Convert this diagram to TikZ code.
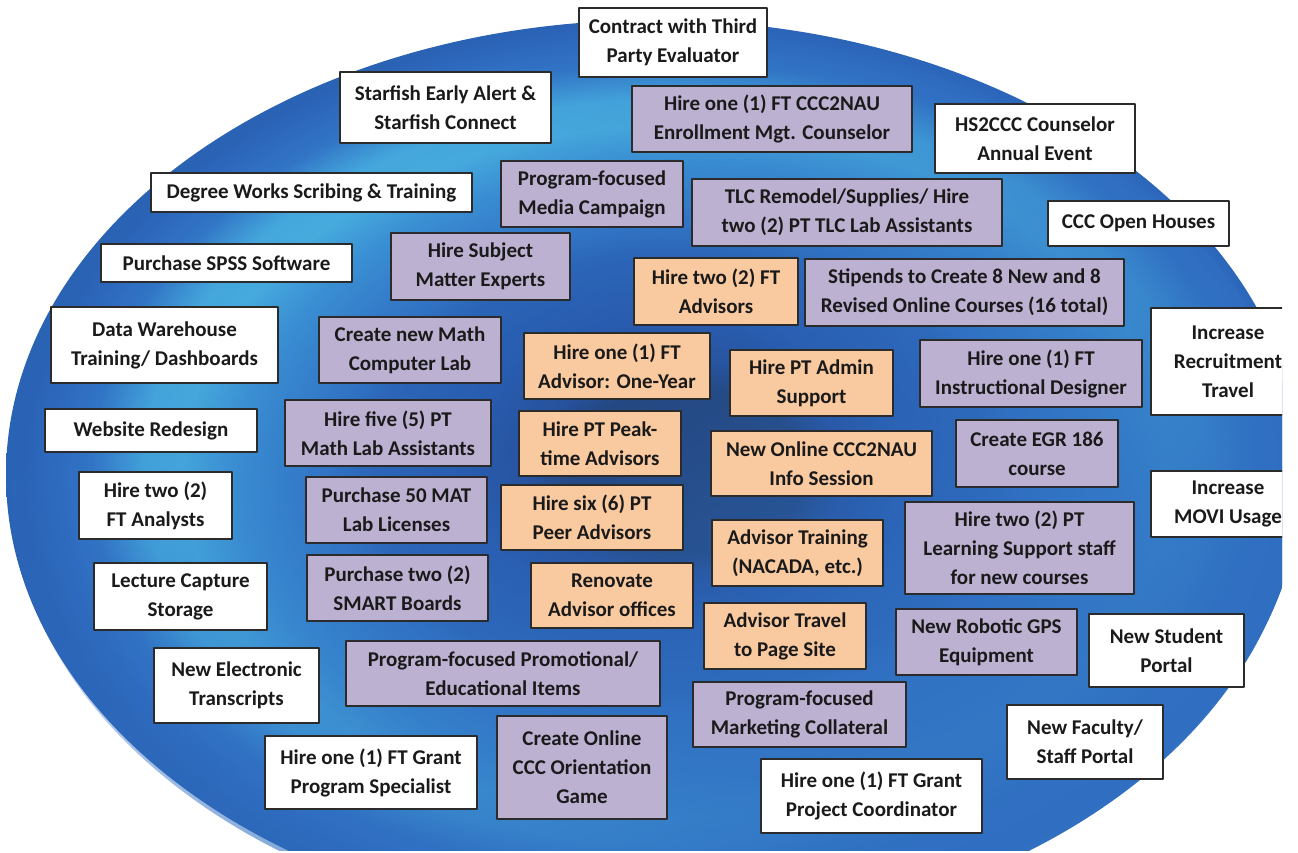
\documentclass[tikz,border=0pt]{standalone}
\usepackage{fontspec}
\usetikzlibrary{fadings}
\setmainfont{Carlito}
\definecolor{lilac}{HTML}{BDB1D2}
\definecolor{peach}{HTML}{F9C9A0}
\definecolor{boxline}{HTML}{2B2B2B}
\definecolor{textdark}{HTML}{1A1A1A}
\definecolor{navy}{HTML}{1C2B52}
\definecolor{deepblue}{HTML}{213F86}
\definecolor{darkblue}{HTML}{2552A6}
\definecolor{midblue}{HTML}{2A62B4}
\definecolor{softblue}{HTML}{3275C6}
\definecolor{lightblue}{HTML}{3D97D8}
\definecolor{cyanband}{HTML}{4AB4E2}
\definecolor{rimblue}{HTML}{2D68BD}
\pgfdeclareradialshading{disc}{\pgfpoint{1.4bp}{0.3bp}}{%
  color(0bp)=(navy); color(4.5bp)=(navy); color(6bp)=(deepblue);
  color(8.5bp)=(darkblue); color(12bp)=(midblue); color(13.5bp)=(softblue);
  color(17bp)=(lightblue); color(19bp)=(cyanband); color(20.5bp)=(cyanband!80!lightblue);
  color(22.5bp)=(softblue); color(24bp)=(rimblue); color(25bp)=(midblue); color(50bp)=(midblue)}
\tikzfading[name=lowright,top color=transparent!100,middle color=transparent!85,bottom color=transparent!0]
\newcommand{\boxfont}{\fontsize{21bp}{29bp}\selectfont\bfseries}
\begin{document}
\begin{tikzpicture}[line join=bevel,
  plainbox/.style={draw=boxline,line width=1.2bp,inner sep=0pt,align=center,text=textdark,font=\boxfont},
  whitebox/.style={plainbox,fill=white},
  purplebox/.style={plainbox,fill=lilac},
  orangebox/.style={plainbox,fill=peach}]
\useasboundingbox (0bp,0bp) rectangle (1298bp,853bp);
\begin{scope}
\clip (0bp,2bp) rectangle (1282bp,853bp);
%% background disc
\shade[shading=disc] (654bp,378bp) ellipse (648bp and 455bp);
\fill[softblue!70!midblue,path fading=lowright,fading angle=45] (654bp,378bp) ellipse (648bp and 455bp);
%% white items
\node (node_0) at (673bp,810.5bp) [whitebox,minimum width=188bp,minimum height=69bp] {Contract with Third\\Party Evaluator};
  \node (node_1) at (445.5bp,745.5bp) [whitebox,minimum width=211bp,minimum height=71bp] {Starfish Early Alert \&\\Starfish Connect};
  \node (node_2) at (311.5bp,660.5bp) [whitebox,minimum width=321bp,minimum height=39bp] {Degree Works Scribing \& Training};
  \node (node_3) at (226.5bp,590bp) [whitebox,minimum width=251bp,minimum height=38bp] {Purchase SPSS Software};
  \node (node_4) at (164.5bp,508bp) [whitebox,minimum width=227bp,minimum height=76bp] {Data Warehouse\\Training/ Dashboards};
  \node (node_5) at (151bp,422.5bp) [whitebox,minimum width=212bp,minimum height=43bp] {Website Redesign};
  \node (node_6) at (155.5bp,347.5bp) [whitebox,minimum width=153bp,minimum height=67bp] {Hire two (2)\\FT Analysts};
  \node (node_7) at (180.5bp,256.5bp) [whitebox,minimum width=173bp,minimum height=67bp] {Lecture Capture\\Storage};
  \node (node_8) at (236.5bp,167.5bp) [whitebox,minimum width=165bp,minimum height=75bp] {New Electronic\\Transcripts};
  \node (node_9) at (371bp,80.5bp) [whitebox,minimum width=212bp,minimum height=73bp] {Hire one (1) FT Grant\\Program Specialist};
  \node (node_10) at (871.5bp,57bp) [whitebox,minimum width=221bp,minimum height=74bp] {Hire one (1) FT Grant\\Project Coordinator};
  \node (node_11) at (1085bp,111bp) [whitebox,minimum width=156bp,minimum height=74bp] {New Faculty/\\Staff Portal};
  \node (node_12) at (1166.5bp,202.5bp) [whitebox,minimum width=155bp,minimum height=73bp] {New Student\\Portal};
  \node (node_13) at (1228bp,349bp) [whitebox,minimum width=154bp,minimum height=66bp] {Increase\\MOVI Usage};
  \node (node_14) at (1228bp,491.5bp) [whitebox,minimum width=154bp,minimum height=107bp] {Increase\\Recruitment\\Travel};
  \node (node_15) at (1138.5bp,629.5bp) [whitebox,minimum width=181bp,minimum height=45bp] {CCC Open Houses};
  \node (node_16) at (1035bp,714.5bp) [whitebox,minimum width=200bp,minimum height=69bp] {HS2CCC Counselor\\Annual Event};
%% purple items
  \node (node_17) at (772bp,734bp) [purplebox,minimum width=280bp,minimum height=66bp] {Hire one (1) FT CCC2NAU\\Enrollment Mgt. Counselor};
  \node (node_18) at (592bp,659bp) [purplebox,minimum width=182bp,minimum height=66bp] {Program-focused\\Media Campaign};
  \node (node_19) at (847bp,640.5bp) [purplebox,minimum width=310bp,minimum height=67bp] {TLC Remodel/Supplies/ Hire\\two (2) PT TLC Lab Assistants};
  \node (node_20) at (480.5bp,586.5bp) [purplebox,minimum width=179bp,minimum height=67bp] {Hire Subject\\Matter Experts};
  \node (node_21) at (964.5bp,560.5bp) [purplebox,minimum width=319bp,minimum height=67bp] {Stipends to Create 8 New and 8\\Revised Online Courses (16 total)};
  \node (node_22) at (410bp,503bp) [purplebox,minimum width=182bp,minimum height=66bp] {Create new Math\\Computer Lab};
  \node (node_23) at (1031bp,479.5bp) [purplebox,minimum width=222bp,minimum height=67bp] {Hire one (1) FT\\Instructional Designer};
  \node (node_24) at (388bp,420bp) [purplebox,minimum width=206bp,minimum height=66bp] {Hire five (5) PT\\Math Lab Assistants};
  \node (node_25) at (396.5bp,343bp) [purplebox,minimum width=181bp,minimum height=66bp] {Purchase 50 MAT\\Lab Licenses};
  \node (node_26) at (397.5bp,265bp) [purplebox,minimum width=181bp,minimum height=66bp] {Purchase two (2)\\SMART Boards};
  \node (node_27) at (503bp,179.5bp) [purplebox,minimum width=314bp,minimum height=65bp] {Program-focused Promotional/\\Educational Items};
  \node (node_28) at (582bp,85.5bp) [purplebox,minimum width=170bp,minimum height=103bp] {Create Online\\CCC Orientation\\Game};
  \node (node_29) at (1037bp,399.5bp) [purplebox,minimum width=162bp,minimum height=67bp] {Create EGR 186\\course};
  \node (node_30) at (1019.5bp,305bp) [purplebox,minimum width=229bp,minimum height=92bp] {Hire two (2) PT\\Learning Support staff\\for new courses};
  \node (node_31) at (986.5bp,211bp) [purplebox,minimum width=181bp,minimum height=66bp] {New Robotic GPS\\Equipment};
  \node (node_32) at (799.5bp,138.5bp) [purplebox,minimum width=213bp,minimum height=65bp] {Program-focused\\Marketing Collateral};
%% orange items
  \node (node_33) at (716bp,561.5bp) [orangebox,minimum width=164bp,minimum height=67bp] {Hire two (2) FT\\Advisors};
  \node (node_34) at (617bp,487bp) [orangebox,minimum width=186bp,minimum height=66bp] {Hire one (1) FT\\Advisor: One-Year};
  \node (node_35) at (811.5bp,470bp) [orangebox,minimum width=163bp,minimum height=66bp] {Hire PT Admin\\Support};
  \node (node_36) at (600bp,409.5bp) [orangebox,minimum width=162bp,minimum height=65bp] {Hire PT Peak-\\time Advisors};
  \node (node_37) at (821.5bp,389.5bp) [orangebox,minimum width=221bp,minimum height=65bp] {New Online CCC2NAU\\Info Session};
  \node (node_38) at (592bp,335.5bp) [orangebox,minimum width=182bp,minimum height=65bp] {Hire six (6) PT\\Peer Advisors};
  \node (node_39) at (797.5bp,300bp) [orangebox,minimum width=171bp,minimum height=66bp] {Advisor Training\\(NACADA, etc.)};
  \node (node_40) at (612bp,257.5bp) [orangebox,minimum width=162bp,minimum height=65bp] {Renovate\\Advisor offices};
  \node (node_41) at (785bp,217bp) [orangebox,minimum width=162bp,minimum height=66bp] {Advisor Travel\\to Page Site};
\end{scope}
%
\end{tikzpicture}
\end{document}
